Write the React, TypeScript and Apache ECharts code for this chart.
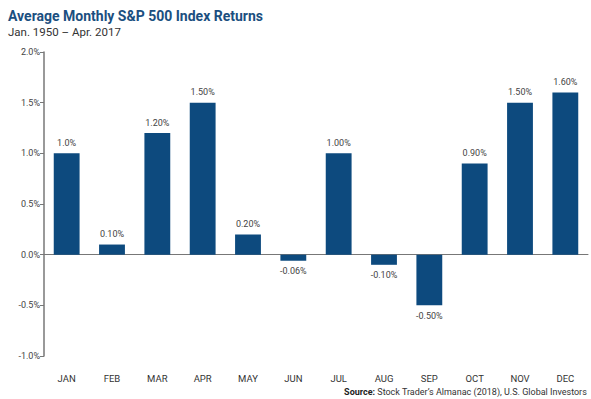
import React, { useEffect, useRef } from "react";
import * as echarts from "echarts";

const months = ["JAN", "FEB", "MAR", "APR", "MAY", "JUN", "JUL", "AUG", "SEP", "OCT", "NOV", "DEC"];
const returns = [1.0, 0.1, 1.2, 1.5, 0.2, -0.06, 1.0, -0.1, -0.5, 0.9, 1.5, 1.6];
const valueLabels = ["1.0%", "0.10%", "1.20%", "1.50%", "0.20%", "-0.06%", "1.00%", "-0.10%", "-0.50%", "0.90%", "1.50%", "1.60%"];
const yTicks = [-1.0, -0.5, 0, 0.5, 1.0, 1.5, 2.0];

const FONT = "'Roboto', 'Noto Sans', sans-serif";

export default function App() {
  const ref = useRef<HTMLDivElement>(null);
  useEffect(() => {
    const chart = echarts.init(ref.current!, null, { renderer: "svg" });
    chart.setOption({
      animation: false,
      backgroundColor: "#ffffff",
      textStyle: { fontFamily: FONT },
      graphic: [
        {
          type: "text",
          left: 8,
          top: 9,
          style: {
            text: "Average Monthly S&P 500 Index Returns",
            font: `bold 14px ${FONT}`,
            fill: "#1b4f80",
          },
        },
        {
          type: "text",
          left: 8,
          top: 26,
          style: {
            text: "Jan. 1950 – Apr. 2017",
            font: `11.5px ${FONT}`,
            fill: "#333333",
          },
        },
        {
          type: "text",
          right: 4,
          top: 387,
          style: {
            text: "{b|Source:} Stock Trader’s Almanac (2018), U.S. Global Investors",
            font: `9px ${FONT}`,
            fill: "#333333",
            rich: {
              b: { fontWeight: "bold", fontSize: 9, fontFamily: FONT, fill: "#222222" },
            },
          },
        },
      ],
      grid: { left: 44, right: 3, top: 52, bottom: 43, containLabel: false },
      xAxis: [
        {
          type: "category",
          data: months,
          position: "bottom",
          axisLine: { onZero: true, lineStyle: { color: "#777777", width: 1 } },
          axisTick: { show: false },
          axisLabel: { show: false },
        },
        {
          type: "category",
          data: months,
          position: "bottom",
          axisLine: { show: false, onZero: false },
          axisTick: { show: false },
          axisLabel: { color: "#333333", fontSize: 9.5, fontFamily: FONT, margin: 17 },
        },
      ],
      yAxis: {
        type: "value",
        min: -1.0,
        max: 2.0,
        interval: 0.5,
        axisLine: { show: true, lineStyle: { color: "#777777", width: 1.5 } },
        axisTick: { show: true, length: 4, lineStyle: { color: "#777777" } },
        splitLine: { show: false },
        axisLabel: {
          color: "#444444",
          fontSize: 9,
          fontFamily: FONT,
          margin: 4,
          formatter: (v: number) => {
            const t = yTicks.find((y) => Math.abs(y - v) < 1e-9);
            return (t !== undefined ? t : v).toFixed(1) + "%";
          },
        },
      },
      series: [
        {
          type: "bar",
          xAxisIndex: 0,
          data: returns.map((v, i) => ({
            value: v,
            label: {
              show: true,
              position: v >= 0 ? "top" : "bottom",
              formatter: valueLabels[i],
            },
          })),
          barWidth: "57%",
          itemStyle: { color: "#0d4a7e" },
          label: { color: "#444444", fontSize: 9, fontFamily: FONT, distance: 6 },
        },
      ],
    });
    return () => chart.dispose();
  }, []);
  return <div ref={ref} style={{ width: 591, height: 399, position: "absolute", left: 0, top: 0 }} />;
}
